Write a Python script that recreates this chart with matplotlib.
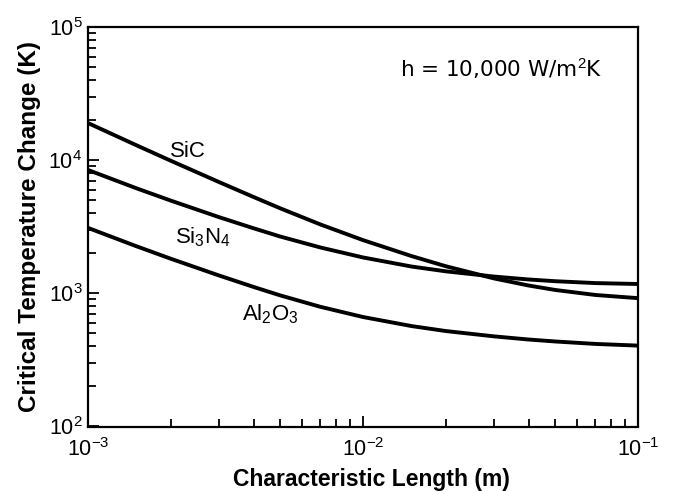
import matplotlib
matplotlib.use("Agg")
import matplotlib.pyplot as plt
from matplotlib.ticker import LogLocator, NullFormatter

plt.rcParams['font.family'] = ['Liberation Sans', 'DejaVu Sans']
plt.rcParams['mathtext.fontset'] = 'custom'
plt.rcParams['mathtext.rm'] = 'Liberation Sans'
plt.rcParams['mathtext.it'] = 'Liberation Sans'
plt.rcParams['mathtext.bf'] = 'Liberation Sans:bold'
plt.rcParams['axes.unicode_minus'] = False

# Data
length_m = [0.001, 0.0015, 0.002, 0.003, 0.004, 0.005, 0.007, 0.01,
            0.015, 0.02, 0.03, 0.04, 0.05, 0.07, 0.1]
sic = [19000, 12940, 9900, 6840, 5290, 4350, 3290, 2510,
       1906, 1598, 1293, 1145, 1060, 972, 920]
si3n4 = [8440, 6150, 4970, 3730, 3080, 2670, 2210, 1860,
         1590, 1463, 1336, 1271, 1233, 1194, 1175]
al2o3 = [3100, 2257, 1819, 1360, 1117, 965, 792, 664,
         568, 521, 475, 450, 435, 417, 405]

series_labels = ['SiC', r'Si$_3$N$_4$', r'Al$_2$O$_3$']
xlabel = 'Characteristic Length (m)'
ylabel = 'Critical Temperature Change (K)'
note = r'h = 10,000 W/m$^2$K'

fig = plt.figure(figsize=(6.73, 4.91), dpi=100)
ax = fig.add_axes([88/673, 1-426.5/491, (638-88)/673, (426.5-27)/491])

for ys in (sic, si3n4, al2o3):
    ax.plot(length_m, ys, color='black', lw=2.8, solid_joinstyle='round')

ax.set_xscale('log')
ax.set_yscale('log')
ax.set_xlim(1e-3, 1e-1)
ax.set_ylim(1e2, 1e5)

for s in ax.spines.values():
    s.set_linewidth(1.6)

ax.xaxis.set_major_locator(LogLocator(base=10, numticks=10))
ax.yaxis.set_major_locator(LogLocator(base=10, numticks=10))
ax.xaxis.set_minor_locator(LogLocator(base=10, subs=range(2, 10), numticks=20))
ax.yaxis.set_minor_locator(LogLocator(base=10, subs=range(2, 10), numticks=20))
ax.xaxis.set_minor_formatter(NullFormatter())
ax.yaxis.set_minor_formatter(NullFormatter())

ax.tick_params(which='both', direction='in', top=False, right=False, width=1.3, labelsize=15.5)
ax.tick_params(which='major', length=8)
ax.tick_params(which='minor', length=6)
ax.tick_params(axis='x', which='major', pad=8)
ax.tick_params(axis='y', which='major', pad=4)

ax.set_xlabel(xlabel, fontsize=16.5, fontweight='bold')
ax.set_ylabel(ylabel, fontsize=17.5, fontweight='bold')
ax.xaxis.set_label_coords(0.516, -0.105)
ax.yaxis.set_label_coords(-0.085, 0.5)

ax.text(0.936, 0.875, note, transform=ax.transAxes, fontsize=15.5,
        ha='right', va='baseline', family=['DejaVu Sans'])

label_pos = [(0.00231, 10570), (0.00261, 2390), (0.00459, 621)]
for txt, (lx, ly) in zip(series_labels, label_pos):
    ax.text(lx, ly, txt, fontsize=16, ha='center', va='baseline')

fig.savefig('out.png', dpi=100)
